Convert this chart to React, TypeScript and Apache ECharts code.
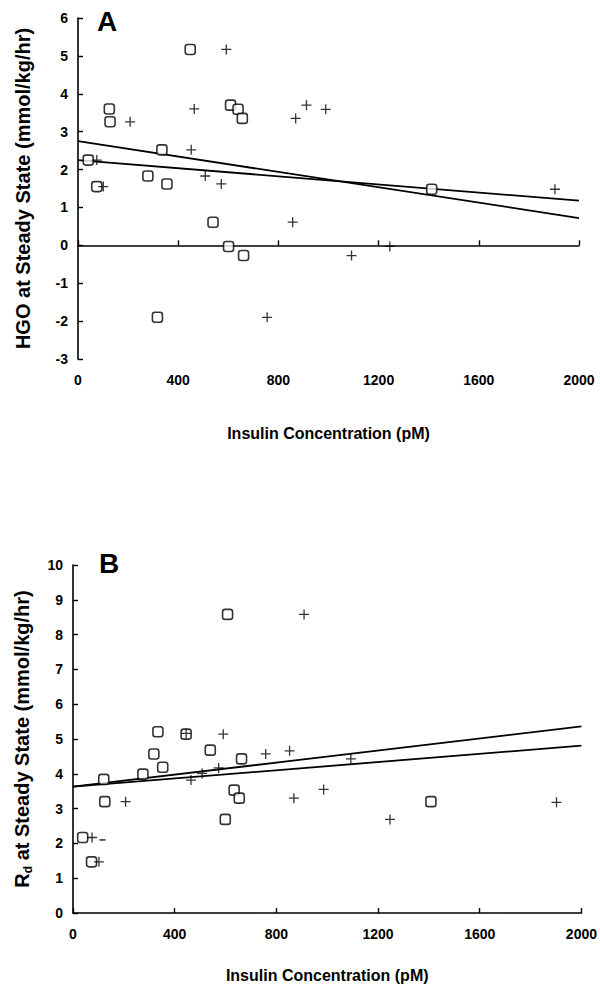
import React, { useEffect, useRef } from "react";
import * as echarts from "echarts";

// Panel A: HGO at steady state
const aSquareX = [41, 75, 125, 128, 279, 335, 355, 448, 539, 601, 609, 639, 656, 661, 317, 1412];
const aSquareY = [2.25, 1.55, 3.6, 3.26, 1.83, 2.52, 1.62, 5.17, 0.61, -0.03, 3.7, 3.59, 3.35, -0.27, -1.9, 1.48];
const aCrossX = [75, 101, 464, 208, 508, 452, 572, 592, 857, 1245, 912, 989, 869, 1092, 755, 1904];
const aCrossY = [2.25, 1.55, 3.6, 3.26, 1.83, 2.52, 1.62, 5.17, 0.61, -0.03, 3.7, 3.59, 3.35, -0.27, -1.9, 1.48];
const aLine1 = [[0, 2.75], [2000, 0.72]];
const aLine2 = [[0, 2.25], [2000, 1.18]];

// Panel B: Rd at steady state
const bSquareX = [38, 73, 121, 125, 275, 334, 353, 445, 540, 599, 608, 634, 654, 663, 318, 1408];
const bSquareY = [2.17, 1.47, 3.84, 3.2, 3.99, 5.21, 4.19, 5.14, 4.68, 2.69, 8.58, 3.53, 3.3, 4.43, 4.57, 3.2];
const bCrossX = [75, 102, 464, 207, 508, 445, 573, 591, 852, 1247, 909, 986, 869, 1093, 758, 1902];
const bCrossY = [2.17, 1.47, 3.82, 3.2, 4.01, 5.16, 4.17, 5.14, 4.66, 2.69, 8.58, 3.55, 3.3, 4.43, 4.57, 3.18];
const bDashX = [116];
const bDashY = [2.1];
const bLine1 = [[0, 3.63], [2000, 5.36]];
const bLine2 = [[0, 3.63], [2000, 4.81]];

const xTicks = [0, 400, 800, 1200, 1600, 2000];

const zip = (xs: number[], ys: number[]) => xs.map((x, i) => [x, ys[i]]);

const PLUS = "path://M4.35,0h1.3v4.35h4.35v1.3h-4.35v4.35h-1.3v-4.35h-4.35v-1.3h4.35z";
const DASH = "path://M0,0h10v2h-10z";
const FONT = "Liberation Sans";

export default function App() {
  const ref = useRef<HTMLDivElement>(null);
  useEffect(() => {
    if (!ref.current) return;
    const chart = echarts.init(ref.current, null, { renderer: "svg" });
    const axisLine = { show: true, lineStyle: { color: "#000", width: 1.6 } };
    const axisTick = { show: true, inside: true, length: 5, lineStyle: { color: "#000", width: 1.4 } };
    const axisLabel = { color: "#000", fontFamily: FONT, fontWeight: "bold", fontSize: 14 };
    const nameStyle = { color: "#000", fontFamily: FONT, fontWeight: "bold", fontSize: 20 };
    const xAxisBase = {
      type: "value",
      min: 0,
      max: 2000,
      interval: 400,
      axisLine,
      axisTick,
      splitLine: { show: false },
      axisLabel: { ...axisLabel, margin: 14, formatter: (v: number) => (xTicks.includes(v) ? String(v) : "") },
      name: "Insulin Concentration (pM)",
      nameLocation: "middle",
      nameTextStyle: { ...nameStyle, fontSize: 16 },
    };
    const sq = { symbol: "roundRect", symbolSize: 10, itemStyle: { color: "#fff", borderColor: "#000", borderWidth: 1.6 } };
    const cr = { symbol: PLUS, symbolSize: 10, itemStyle: { color: "#000" } };
    const ln = { type: "line", showSymbol: false, lineStyle: { color: "#000", width: 1.8 }, z: 1 };
    chart.setOption({
      animation: false,
      backgroundColor: "#fff",
      grid: [
        { left: 78, top: 18, width: 501, height: 341 },
        { left: 73, top: 565, width: 511, height: 348 },
      ],
      xAxis: [
        { ...xAxisBase, gridIndex: 0, nameGap: 66 },
        { ...xAxisBase, gridIndex: 1, nameGap: 54 },
      ],
      yAxis: [
        {
          type: "value",
          gridIndex: 0,
          min: -3,
          max: 6,
          interval: 1,
          axisLine,
          axisTick,
          splitLine: { show: false },
          axisLabel: { ...axisLabel, margin: 10 },
          name: "HGO at Steady State (mmol/kg/hr)",
          nameLocation: "middle",
          nameRotate: 90,
          nameGap: 45,
          nameTextStyle: nameStyle,
        },
        {
          type: "value",
          gridIndex: 1,
          min: 0,
          max: 10,
          interval: 1,
          axisLine,
          axisTick,
          splitLine: { show: false },
          axisLabel: { ...axisLabel, margin: 10 },
          name: "{r|R}{s|d}{r| at Steady State (mmol/kg/hr)}",
          nameLocation: "middle",
          nameRotate: 90,
          nameGap: 39,
          nameTextStyle: {
            ...nameStyle,
            rich: {
              r: { fontFamily: FONT, fontWeight: "bold", fontSize: 20, color: "#000", lineHeight: 24 },
              s: { fontFamily: FONT, fontWeight: "bold", fontSize: 12, color: "#000", lineHeight: 14, verticalAlign: "bottom" },
            },
          },
        },
      ],
      series: [
        { ...ln, xAxisIndex: 0, yAxisIndex: 0, data: aLine1 },
        { ...ln, xAxisIndex: 0, yAxisIndex: 0, data: aLine2 },
        { type: "scatter", ...sq, xAxisIndex: 0, yAxisIndex: 0, data: zip(aSquareX, aSquareY), z: 3 },
        { type: "scatter", ...cr, xAxisIndex: 0, yAxisIndex: 0, data: zip(aCrossX, aCrossY), z: 4 },
        { ...ln, xAxisIndex: 1, yAxisIndex: 1, data: bLine1 },
        { ...ln, xAxisIndex: 1, yAxisIndex: 1, data: bLine2 },
        { type: "scatter", ...sq, xAxisIndex: 1, yAxisIndex: 1, data: zip(bSquareX, bSquareY), z: 3 },
        { type: "scatter", ...cr, xAxisIndex: 1, yAxisIndex: 1, data: zip(bCrossX, bCrossY), z: 4 },
        { type: "scatter", symbol: DASH, symbolSize: [6, 1.6], itemStyle: { color: "#000" }, xAxisIndex: 1, yAxisIndex: 1, data: zip(bDashX, bDashY), z: 4 },
      ],
      graphic: [
        { type: "text", left: 97, top: 7, style: { text: "A", font: `bold 28px "${FONT}"`, fill: "#000" } },
        { type: "text", left: 99, top: 549, style: { text: "B", font: `bold 28px "${FONT}"`, fill: "#000" } },
      ],
    });
    return () => chart.dispose();
  }, []);
  return <div ref={ref} style={{ position: "absolute", left: 0, top: 0, width: 600, height: 992 }} />;
}
